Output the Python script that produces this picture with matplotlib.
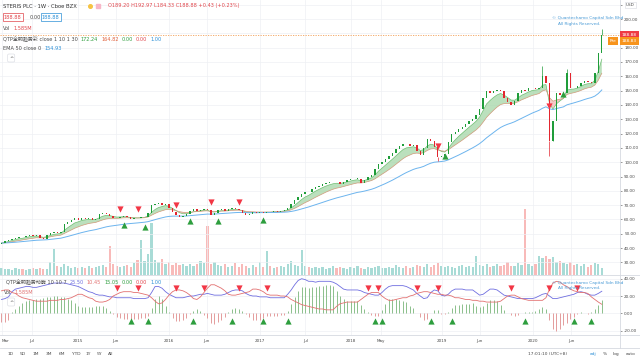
import matplotlib
matplotlib.use('Agg')
import matplotlib.pyplot as plt
from matplotlib.lines import Line2D
import numpy as np
import pandas as pd

plt.rcParams['font.family'] = ['DejaVu Sans', 'Noto Sans CJK SC']

# biweekly bars, STERIS weekly chart (Feb 2014 - Oct 2020)
start_date = '2014-02-28'
close = [43.5, 44.8, 45.9, 46.5, 47.2, 48.0, 47.4, 48.3, 49.1, 48.6,
         49.2, 47.0, 46.5, 48.9, 50.6, 51.2, 50.4, 51.0, 56.5, 58.2,
         59.3, 60.8, 59.9, 61.2, 60.4, 61.0, 59.4, 60.2, 63.5, 64.5,
         64.0, 62.4, 61.0, 60.8, 61.9, 62.3, 61.5, 60.2, 61.0, 60.8,
         61.5, 62.0, 64.5, 70.0, 70.8, 71.2, 70.4, 71.0, 68.0, 65.0,
         63.2, 61.7, 62.5, 64.0, 65.8, 67.0, 66.2, 66.8, 67.4, 66.6,
         63.0, 64.8, 66.6, 67.0, 66.1, 67.2, 67.8, 67.0, 66.6, 64.8,
         63.0, 63.8, 65.0, 64.4, 65.2, 64.8, 65.5, 65.0, 65.9, 65.5,
         66.0, 66.8, 67.8, 71.0, 73.4, 76.0, 78.0, 79.2, 79.0, 81.5,
         82.7, 83.5, 84.8, 85.4, 86.0, 86.3, 86.0, 85.0, 86.5, 87.5,
         88.0, 88.5, 88.5, 85.3, 87.8, 90.0, 90.8, 95.0, 99.0, 100.0,
         102.0, 104.0, 106.5, 109.0, 111.0, 113.0, 112.5, 111.0, 111.8, 108.0,
         104.8, 110.0, 116.5, 115.0, 110.6, 103.6, 104.5, 106.0, 114.0, 120.0,
         121.0, 123.0, 124.6, 127.0, 128.5, 130.5, 133.0, 137.5, 145.0, 150.0,
         148.0, 149.5, 150.5, 150.0, 144.5, 142.0, 139.8, 143.0, 148.0, 150.5,
         150.0, 151.5, 152.0, 151.0, 151.5, 160.0, 155.0, 115.0, 129.0, 148.0,
         147.0, 148.0, 162.0, 152.0, 151.5, 153.0, 155.0, 157.0, 156.0, 155.0,
         162.0, 176.0, 188.88]
first_open = 43.0
wick_high = {155: 167.0, 162: 165.0, 172: 192.97}
wick_low = {157: 104.5, 125: 100.5, 158: 118.0}

# volume in millions
volume = [1.5, 1.3, 1.4, 1.2, 1.6, 1.3, 1.4, 1.2, 1.3, 1.5,
          1.4, 1.6, 1.3, 1.4, 2.8, 5.7, 2.0, 1.8, 2.5, 1.9,
          1.6, 1.8, 1.5, 1.7, 1.6, 1.9, 1.5, 1.7, 2.0, 2.2,
          1.8, 6.4, 2.4, 2.0, 1.7, 1.9, 2.1, 1.8, 2.6, 3.3,
          7.7, 3.0, 4.5, 11.4, 3.2, 2.8, 3.5, 2.4, 2.9, 2.2,
          2.6, 2.1, 2.4, 1.9, 2.3, 2.0, 2.5, 3.0, 2.6, 10.8,
          2.4, 2.8, 2.1, 1.9, 2.3, 1.8, 2.0, 2.6, 1.7, 2.5,
          1.9, 1.6, 2.1, 1.8, 2.8, 1.7, 5.3, 1.9, 1.6, 1.8,
          2.0, 1.7, 2.3, 3.1, 2.2, 1.9, 5.5, 2.0, 1.7, 1.6,
          1.8, 1.5, 1.7, 1.4, 1.6, 1.9, 1.5, 1.8, 1.6, 1.4,
          1.7, 1.5, 1.9, 1.6, 1.4, 1.8, 1.5, 1.7, 2.0, 1.6,
          1.5, 1.8, 1.6, 2.1, 1.7, 1.5, 1.9, 1.6, 1.8, 2.2,
          2.0, 1.7, 2.4, 1.8, 2.1, 2.6, 1.9, 1.7, 2.0, 1.8,
          1.6, 1.9, 2.2, 1.7, 2.0, 1.8, 4.2, 2.1, 1.9, 2.3,
          1.8, 2.0, 2.5, 1.9, 2.2, 2.8, 2.0, 1.9, 2.6, 2.1,
          14.5, 2.3, 1.9, 2.4, 4.2, 3.8, 4.2, 3.5, 4.0, 2.9,
          3.0, 2.6, 2.3, 2.8, 2.1, 2.5, 2.0, 2.3, 1.8, 2.2,
          2.6, 2.3, 1.585]

# lower oscillator: blue and red lines
osc_blue = [16, 17, 19, 25, 28, 29, 30, 31, 31, 30,
            30, 31, 32, 33, 34, 35, 35, 35, 35, 34,
            33, 32, 31, 29, 27, 25, 24, 22, 21, 21,
            20, 19, 19, 18, 18, 18, 18, 18, 17, 17,
            17, 17, 18, 24, 31, 31, 29, 25, 22, 20,
            18, 18, 18, 19, 20, 20, 21, 22, 22, 23,
            22, 21, 21, 21, 22, 24, 26, 27, 27, 26,
            23, 21, 20, 20, 19, 19, 19, 18, 18, 18,
            18, 18, 22, 27, 33, 38, 40, 39, 37, 37,
            36, 37, 37, 37, 37, 36, 34, 31, 28, 27,
            27, 27, 27, 26, 24, 23, 22, 21, 21, 24,
            28, 31, 32, 32, 32, 32, 31, 29, 27, 23,
            20, 17, 18, 24, 27, 26, 21, 20, 22, 26,
            28, 28, 28, 27, 27, 27, 24, 21, 22, 25,
            28, 28, 27, 24, 21, 20, 19, 18, 17, 17,
            17, 17, 17, 18, 20, 22, 23, 20, 17, 17,
            18, 19, 20, 21, 22, 24, 25, 24, 22, 21,
            21, 23, 25.5]
osc_red = [26, 27, 27, 24, 23, 20, 18, 17, 16, 15,
           14, 14, 14, 14, 15, 15, 15, 16, 16, 17,
           18, 20, 22, 22, 20, 18, 17, 14, 13, 13,
           14, 16, 20, 22, 24, 25, 25, 25, 24, 24,
           23, 22, 21, 18, 14, 11, 12, 16, 21, 25,
           27, 27, 26, 24, 21, 17, 16, 19, 24, 29,
           33, 33, 31, 29, 26, 22, 21, 21, 22, 23,
           24, 25, 28, 28, 27, 25, 22, 21, 21, 21,
           20, 20, 19, 16, 14, 12, 10, 9, 8, 7,
           6, 5, 5, 4, 4, 4, 8, 11, 12, 13,
           13, 13, 13, 16, 19, 22, 24, 24, 24, 20,
           17, 15, 15, 16, 17, 18, 18, 20, 21, 23,
           24, 25, 25, 24, 23, 22, 22, 21, 21, 20,
           18, 18, 17, 16, 16, 15, 15, 14, 14, 13,
           13, 13, 13, 14, 17, 20, 21, 21, 19, 17,
           16, 15, 15, 15, 15, 15, 18, 28, 35, 37,
           36, 33, 31, 28, 26, 25, 24, 24, 23, 19,
           16, 13, 10.45]

# signals (bar index, price) on the price panel
sig_dn_idx = [34, 39, 50, 60, 68, 125, 157]
sig_dn_px = [67, 67, 70, 72, 72, 111, 139]
sig_up_idx = [35, 41, 54, 62, 75, 127, 161]
sig_up_px = [56, 54.5, 58.7, 58.7, 59.4, 104, 147.5]
# signals on the oscillator panel
osc_dn_idx = [33, 39, 50, 58, 68, 76, 105, 108, 119, 125, 146, 157, 165]
osc_up_idx = [37, 42, 55, 66, 75, 82, 107, 109, 123, 129, 150, 164, 169]

tick_dates = ['2014-03-01', '2014-07-01', '2015-01-01', '2015-06-01', '2016-01-01',
              '2016-06-01', '2017-01-01', '2017-07-01', '2018-01-01', '2018-05-01',
              '2019-01-01', '2019-06-01', '2020-01-01', '2020-06-01']
tick_labels = ['Mar', 'Jul', '2015', 'Jun', '2016', 'Jun', '2017', 'Jul', '2018',
               'May', '2019', 'Jun', '2020', 'Jun']

dates = pd.date_range(start_date, periods=len(close), freq='14D')
c = np.array(close)
o = np.concatenate([[first_open], c[:-1]])
up = c >= o
s = pd.Series(c)
fast = s.ewm(span=5, adjust=False).mean().values
slow = s.ewm(span=12, adjust=False).mean().values
ema50 = s.ewm(span=32, adjust=False).mean().values

GREEN = '#1f9d3a'
RED = '#e3262f'
GRID = '#eef0f4'
TXT = '#4a4a4a'
xlim = (pd.Timestamp('2014-02-22'), pd.Timestamp('2020-12-14'))
tk = pd.to_datetime(tick_dates)

fig = plt.figure(figsize=(6.4, 3.6), dpi=100)
main_pos = [0, 1 - 275 / 360, 620 / 640, 275 / 360]

# volume behind the price panel
vax = fig.add_axes(main_pos)
vcol = np.where(up, '#26a69a', '#ef5350')
vax.bar(dates, volume, width=9, color=vcol, alpha=0.4, linewidth=0)
vax.set_ylim(0, 60)
vax.set_xlim(xlim)
vax.axis('off')

ax = fig.add_axes(main_pos, facecolor='none')
ax.set_xlim(xlim)
ax.set_ylim(21.2, 213.3)
yt = np.arange(30, 211, 10)
ax.set_yticks(yt)
ax.set_xticks(tk)
ax.grid(True, color=GRID, lw=0.5)
ax.set_axisbelow(True)
ax.yaxis.tick_right()
ax.tick_params(axis='y', labelsize=3, colors=TXT, length=1.5, width=0.4, pad=1.5)
ax.tick_params(axis='x', labelbottom=False, length=0)
# 190 and 210 sit under the price / USD boxes
ax.set_yticklabels(['' if v in (190, 210) else '%.2f' % v for v in yt])
for sp in ax.spines.values():
    sp.set_visible(False)

# ribbon + ema
ax.fill_between(dates, fast, slow, where=fast >= slow, interpolate=True,
                color='#a5d6a7', alpha=0.75, lw=0)
ax.fill_between(dates, fast, slow, where=fast < slow, interpolate=True,
                color='#f4b6b6', alpha=0.75, lw=0)
ax.plot(dates, fast, color='#6fbf73', lw=0.5)
ax.plot(dates, slow, color='#cf9a7a', lw=0.5)
ax.plot(dates, ema50, color='#6cb4ee', lw=0.7)

# candles
ccol = np.where(up, GREEN, RED)
body_lo = np.minimum(o, c)
body_h = np.maximum(np.abs(c - o), 0.35)
ax.bar(dates, body_h, bottom=body_lo, width=5.5, color=ccol, linewidth=0, zorder=3)
for i, hv in wick_high.items():
    ax.vlines(dates[i], max(o[i], c[i]), hv, color=ccol[i], lw=0.5, zorder=3)
for i, lv in wick_low.items():
    ax.vlines(dates[i], lv, min(o[i], c[i]), color=ccol[i], lw=0.5, zorder=3)

ax.axhline(close[-1], color='#f3a15a', lw=0.6, ls=(0, (1.5, 1.5)))
ax.scatter(dates[sig_dn_idx], sig_dn_px, marker='v', s=20, color='#f23645', lw=0, zorder=4)
ax.scatter(dates[sig_up_idx], sig_up_px, marker='^', s=20, color='#2e9e3e', lw=0, zorder=4)

# oscillator panel
bx = fig.add_axes([0, 1 - 335 / 360, 620 / 640, 60 / 360])
bx.set_xlim(xlim)
bx.set_ylim(-25.1, 44.3)
hist = np.array(osc_blue) - np.array(osc_red)
hcol = np.where(hist >= 0, '#8cc08c', '#e49c9c')
bx.vlines(dates, 0, hist, colors=hcol, lw=0.7)
bx.plot(dates, osc_blue, color='#6f6ee0', lw=0.6)
bx.plot(dates, osc_red, color='#e27070', lw=0.6)
bx.scatter(dates[osc_dn_idx], [29] * len(osc_dn_idx), marker='v', s=20,
           color='#f23645', lw=0, zorder=4)
bx.scatter(dates[osc_up_idx], [-9] * len(osc_up_idx), marker='^', s=20,
           color='#2e9e3e', lw=0, zorder=4)
bx.set_yticks([-20, 0, 20, 40])
bx.set_yticklabels(['-20.00', '0.00', '20.00', '40.00'])
bx.yaxis.tick_right()
bx.set_xticks(tk)
bx.set_xticklabels(tick_labels)
bx.get_xticklabels()[0].set_ha('left')
bx.grid(True, color=GRID, lw=0.5)
bx.set_axisbelow(True)
bx.tick_params(axis='y', labelsize=3, colors=TXT, length=1.5, width=0.4, pad=1.5)
bx.tick_params(axis='x', labelsize=3, colors=TXT, length=0, pad=3)
for sp in bx.spines.values():
    sp.set_visible(False)

renderer = fig.canvas.get_renderer()


def ft(x, y, s, **kw):
    kw.setdefault('fontsize', 3.6)
    kw.setdefault('va', 'center')
    kw.setdefault('color', TXT)
    return fig.text(x / 640, 1 - y / 360, s, **kw)


def row(x, y, parts, gap=3, size=3.6):
    # coloured pieces of one legend line, laid side by side
    for txt, col in parts:
        t = ft(x, y, txt, color=col, fontsize=size)
        x += t.get_window_extent(renderer=renderer).width + gap


def hline(y, x0=0, x1=640):
    fig.add_artist(Line2D([x0 / 640, x1 / 640], [1 - y / 360, 1 - y / 360],
                          transform=fig.transFigure, color='#d6d9e0', lw=0.6))


hline(275)
hline(335)
hline(348)
fig.add_artist(Line2D([620 / 640, 620 / 640], [1 - 348 / 360, 1],
                      transform=fig.transFigure, color='#d6d9e0', lw=0.6))

# header
ft(3, 6, 'STERIS PLC · 1W · Cboe BZX', color='#333333', fontsize=3.8)
fig.add_artist(Line2D([90 / 640], [1 - 6 / 360], marker='o', ms=2.6, color='#f6c343',
                      transform=fig.transFigure))
fig.add_artist(Line2D([98 / 640], [1 - 6 / 360], marker='s', ms=3.0, color='#f7b7c8',
                      transform=fig.transFigure))
ft(108, 6, 'O189.20 H192.97 L184.33 C188.88 +0.43 (+0.23%)', color='#e0454b')
ft(4, 17.3, '188.88', color='#e0454b',
   bbox=dict(boxstyle='square,pad=0.3', fc='white', ec='#e0454b', lw=0.5))
ft(30, 17.3, '0.00')
ft(42, 17.3, '188.88', color='#2b8fd6',
   bbox=dict(boxstyle='square,pad=0.3', fc='white', ec='#2b8fd6', lw=0.5))
row(3, 28.7, [('Vol', TXT), ('1.585M', '#e0454b')])
row(3, 39.3, [('QTP全明趋势彩 close 1 10 1 30', TXT), ('172.24', '#2e9e3e'),
              ('164.82', '#e0603b'), ('0.00', '#2e9e3e'), ('0.00', '#e0454b'),
              ('1.00', '#2b8fd6')])
row(3, 48.7, [('EMA 50 close 0', TXT), ('154.93', '#2b8fd6')])
ft(9, 58, '^', bbox=dict(boxstyle='round,pad=0.3', fc='white', ec='#d6d9e0', lw=0.4))

row(6, 282, [('QTP全明趋势动能 10 10 7', TXT), ('25.50', '#6f6ee0'), ('10.45', '#e27070'),
             ('15.05', '#2e9e3e'), ('0.00', '#2e9e3e'), ('0.00', '#e0454b'),
             ('1.00', '#2b8fd6')])
row(4, 292, [('Vol', TXT), ('1.585M', '#e07070')])
ft(9, 302, '^', bbox=dict(boxstyle='round,pad=0.3', fc='white', ec='#d6d9e0', lw=0.4))

# watermarks
for y1, y2 in [(18.3, 24.0), (283, 288.5)]:
    ft(552, y1, '© Quantechamo Capital Sdn Bhd', color='#4a9bd6', fontsize=3.1)
    ft(558, y2, 'All Rights Reserved.', color='#4a9bd6', fontsize=3.1)

# price labels on the axis
ft(622, 35, '188.88', color='white', fontsize=3.2,
   bbox=dict(boxstyle='square,pad=0.35', fc='#ef3b45', ec='none'))
ft(610, 41, 'Pre', color='white', fontsize=3.2,
   bbox=dict(boxstyle='square,pad=0.35', fc='#f7941d', ec='none'))
ft(622, 41, '188.83', color='white', fontsize=3.2,
   bbox=dict(boxstyle='square,pad=0.35', fc='#f7941d', ec='none'))
ft(626, 5, 'USD', fontsize=3.0,
   bbox=dict(boxstyle='square,pad=0.3', fc='white', ec='#d6d9e0', lw=0.4))

# toolbar
for x, lab in zip([8, 20, 33, 46, 59, 72, 86, 97, 108],
                  ['1D', '5D', '1M', '3M', '6M', 'YTD', '1Y', '5Y', 'All']):
    ft(x, 354, lab, fontsize=3.2)
ft(528, 354, '17:01:10 (UTC+8)', fontsize=3.2)
ft(590, 354, 'adj', color='#2b8fd6', fontsize=3.2)
ft(603, 354, '%', fontsize=3.2)
ft(613, 354, 'log', fontsize=3.2)
ft(626, 354, 'auto', fontsize=3.2)

fig.savefig('out.png', dpi=100)
